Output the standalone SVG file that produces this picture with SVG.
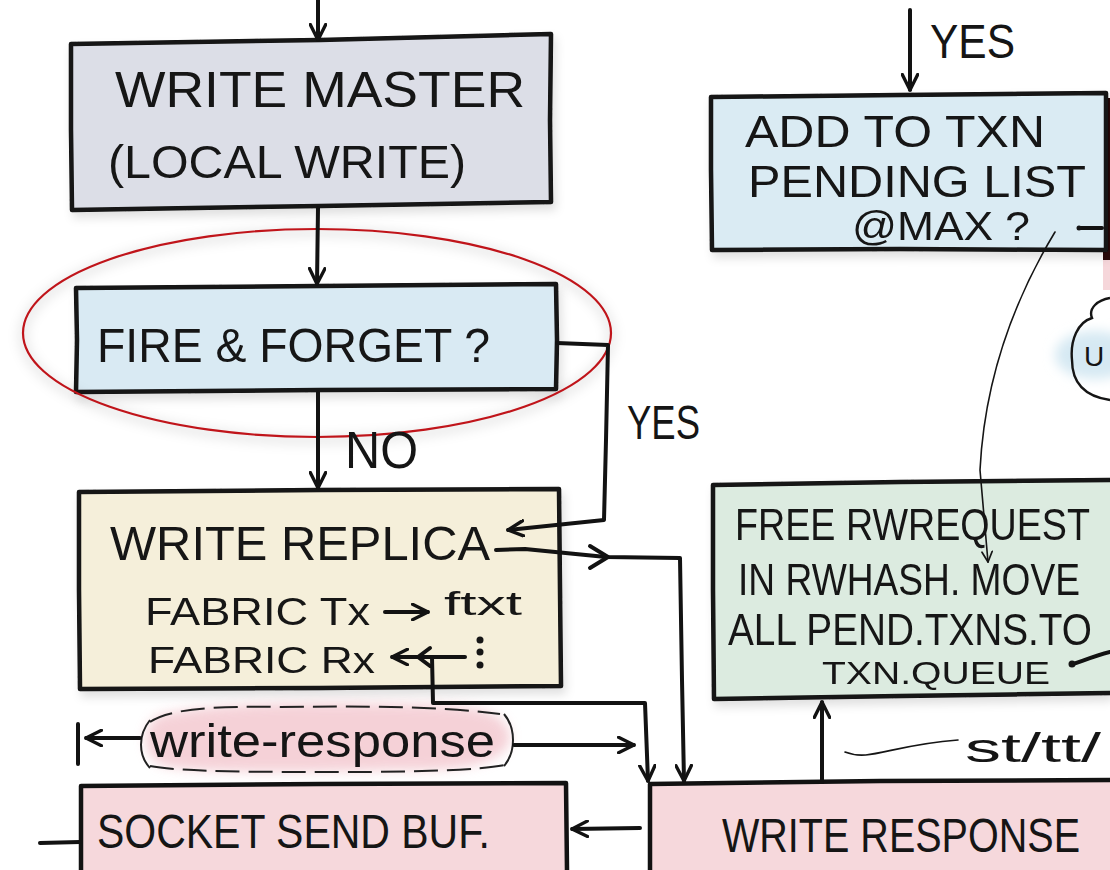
<svg xmlns="http://www.w3.org/2000/svg" width="1110" height="870" viewBox="0 0 1110 870">
  <defs>
    <style>
      .box { stroke: #121212; stroke-width: 4.5; stroke-linejoin: round; }
      .edge { fill: none; stroke: #121212; stroke-width: 4.5; stroke-linejoin: round; }
      .lbl { font-family: "Liberation Sans", "DejaVu Sans", sans-serif; fill: #151515; }
      .wire { fill: none; stroke: #121212; stroke-width: 4; stroke-linecap: round; stroke-linejoin: round; }
      .thin { fill: none; stroke: #151515; stroke-width: 1.6; stroke-linecap: round; }
      .head { fill: none; stroke: #121212; stroke-width: 4; stroke-linecap: round; stroke-linejoin: round; }
    </style>
    <marker id="arrow" viewBox="0 0 14 14" refX="13" refY="7" markerWidth="18" markerHeight="18" markerUnits="userSpaceOnUse" orient="auto">
      <path d="M1,1 L13,7 L1,13" fill="none" stroke="#121212" stroke-width="2.6" stroke-linecap="round" stroke-linejoin="round"/>
    </marker>
    <marker id="arrowSmall" viewBox="0 0 14 14" refX="13" refY="7" markerWidth="12" markerHeight="12" markerUnits="userSpaceOnUse" orient="auto">
      <path d="M1,1 L13,7 L1,13" fill="none" stroke="#151515" stroke-width="2" stroke-linecap="round"/>
    </marker>
    <filter id="shadow" x="-10%" y="-10%" width="125%" height="130%">
      <feDropShadow dx="3" dy="6" stdDeviation="5" flood-color="#000" flood-opacity="0.12"/>
    </filter>
    <filter id="haze" x="-20%" y="-40%" width="140%" height="180%">
      <feGaussianBlur stdDeviation="6"/>
    </filter>
  </defs>

  <rect width="1110" height="870" fill="#ffffff"/>

  <!-- edge of a neighbouring box on the right -->
  <rect x="1103" y="98" width="7" height="162" fill="#2a0808"/>
  <rect x="1103" y="260" width="7" height="30" fill="#f6d6da"/>

  <!-- partial cloud at the right edge -->
  <g id="cloud-right">
    <ellipse cx="1095" cy="355" rx="40" ry="24" fill="#d6e9f3" filter="url(#haze)"/>
    <path d="M1110,298 C1098,300 1088,308 1092,318 C1078,322 1070,340 1072,360 C1072,380 1082,396 1110,400" fill="none" stroke="#151515" stroke-width="2.4"/>
    <text class="lbl" x="1084" y="366" font-size="28">U</text>
  </g>

  <!-- WRITE MASTER -->
  <g id="write-master" filter="url(#shadow)">
    <path class="box" fill="#dcdee7" d="M71,44 L320,40 L551,34 L550,120 L551,202 L320,206 L72,210 L71,130 Z"/>
    <text class="lbl" x="115" y="107" font-size="50" textLength="410" lengthAdjust="spacingAndGlyphs">WRITE MASTER</text>
    <text class="lbl" x="108" y="178" font-size="46" textLength="358" lengthAdjust="spacingAndGlyphs">(LOCAL WRITE)</text>
  </g>

  <!-- FIRE & FORGET ? -->
  <g id="fire-and-forget" filter="url(#shadow)">
    <path class="box" fill="#d9eaf3" d="M76,288 L320,286 L556,284 L557,340 L556,389 L320,390 L76,392 L77,340 Z"/>
    <text class="lbl" x="97" y="362" font-size="48" textLength="393" lengthAdjust="spacingAndGlyphs">FIRE &amp; FORGET ?</text>
  </g>

  <!-- highlight ring -->
  <g id="highlight">
    <ellipse cx="317" cy="336" rx="294" ry="104" fill="none" stroke="#000" stroke-opacity="0.10" stroke-width="8" filter="url(#haze)"/>
    <ellipse cx="317" cy="333" rx="294" ry="104" fill="none" stroke="#c0141a" stroke-width="2.2"/>
  </g>

  <!-- WRITE REPLICA -->
  <g id="write-replica" filter="url(#shadow)">
    <path class="box" fill="#f5efda" d="M79,492 L320,490 L559,489 L560,590 L561,686 L320,688 L80,689 L79,590 Z"/>
    <text class="lbl" x="110" y="560" font-size="48" textLength="380" lengthAdjust="spacingAndGlyphs">WRITE REPLICA</text>
    <text class="lbl" x="145" y="625" font-size="38" textLength="225" lengthAdjust="spacingAndGlyphs">FABRIC Tx</text>
    <text class="lbl" x="444" y="615" font-size="34" textLength="78" lengthAdjust="spacingAndGlyphs">ftxt</text>
    <text class="lbl" x="148" y="673" font-size="37" textLength="227" lengthAdjust="spacingAndGlyphs">FABRIC Rx</text>
    <circle cx="480" cy="640" r="3.5" fill="#151515"/>
    <circle cx="480" cy="652" r="3.5" fill="#151515"/>
    <circle cx="480" cy="665" r="3.5" fill="#151515"/>
  </g>

  <!-- write-response message -->
  <g id="write-response-msg">
    <path d="M160,715 C230,700 330,702 420,704 C480,705 505,712 510,735 C512,760 470,772 400,770 C300,772 210,774 165,766 C140,758 140,725 160,715 Z" fill="#f3c6ce" opacity="0.8" filter="url(#haze)"/>
    <path d="M150,722 C170,708 220,706 280,707 C360,706 440,706 500,714 M150,766 C180,772 260,772 340,772 C420,772 480,770 505,765" fill="none" stroke="#222" stroke-width="2" stroke-dasharray="24 9"/>
    <path d="M150,720 C138,735 138,755 150,768 M504,714 C516,728 516,752 504,766" fill="none" stroke="#222" stroke-width="2"/>
    <text class="lbl" x="150" y="757" font-size="46" textLength="345" lengthAdjust="spacingAndGlyphs">write-response</text>
  </g>

  <!-- SOCKET SEND BUF. -->
  <g id="socket-send-buf">
    <path fill="#f6d8dc" d="M81,870 L81,786 L320,784 L566,783 L567,870 Z"/>
    <path class="edge" stroke="#2a0808" d="M81,870 L81,786 L320,784 L566,783 L567,870"/>
    <text class="lbl" x="97" y="848" font-size="48" fill="#2a0a0a" textLength="393" lengthAdjust="spacingAndGlyphs">SOCKET SEND BUF.</text>
  </g>

  <!-- WRITE RESPONSE -->
  <g id="write-response">
    <path fill="#f6d8dc" d="M650,870 L650,784 L880,781 L1110,780 L1110,870 Z"/>
    <path class="edge" stroke="#2a0808" d="M650,870 L650,784 L880,781 L1110,780"/>
    <text class="lbl" transform="translate(722,852) scale(1,1.18)" font-size="41" fill="#2a0a0a" textLength="358" lengthAdjust="spacingAndGlyphs">WRITE RESPONSE</text>
  </g>

  <!-- ADD TO TXN PENDING LIST @MAX ? -->
  <g id="add-to-txn" filter="url(#shadow)">
    <path class="box" fill="#daebf3" d="M711,97 L900,95 L1106,93 L1106,250 L900,249 L712,250 L711,170 Z"/>
    <text class="lbl" x="745" y="147" font-size="44" textLength="300" lengthAdjust="spacingAndGlyphs">ADD TO TXN</text>
    <text class="lbl" x="748" y="197" font-size="44" textLength="338" lengthAdjust="spacingAndGlyphs">PENDING LIST</text>
    <text class="lbl" x="852" y="240" font-size="40" textLength="178" lengthAdjust="spacingAndGlyphs">@MAX ?</text>
  </g>

  <!-- FREE RWREQUEST ... -->
  <g id="free-rwrequest" filter="url(#shadow)">
    <path fill="#dcebe0" d="M713,485 L900,482 L1110,480 L1110,693 L900,696 L714,699 L713,590 Z"/>
    <path class="edge" d="M1110,480 L900,482 L713,485 L713,590 L714,699 L900,696 L1110,693"/>
    <text class="lbl" transform="translate(735,540) scale(1,1.15)" font-size="39" textLength="355" lengthAdjust="spacingAndGlyphs">FREE RWREQUEST</text>
    <text class="lbl" transform="translate(738,595) scale(1,1.15)" font-size="38" textLength="342" lengthAdjust="spacingAndGlyphs">IN RWHASH. MOVE</text>
    <text class="lbl" transform="translate(728,645) scale(1,1.15)" font-size="39" textLength="364" lengthAdjust="spacingAndGlyphs">ALL PEND.TXNS.TO</text>
    <text class="lbl" x="822" y="684" font-size="32" textLength="228" lengthAdjust="spacingAndGlyphs">TXN.QUEUE</text>
  </g>

  <!-- labels on connectors -->
  <g id="connector-labels">
    <text class="lbl" x="345" y="468" font-size="52" textLength="73" lengthAdjust="spacingAndGlyphs">NO</text>
    <text class="lbl" x="627" y="439" font-size="48" textLength="73" lengthAdjust="spacingAndGlyphs">YES</text>
    <text class="lbl" x="930" y="58" font-size="48" textLength="85" lengthAdjust="spacingAndGlyphs">YES</text>
    <text class="lbl" x="965" y="762" font-size="40" textLength="136" lengthAdjust="spacingAndGlyphs">st/tt/</text>
  </g>

  <g id="connectors">
    <!-- into WRITE MASTER -->
    <path class="wire" d="M318,0 L318,40" marker-end="url(#arrow)"/>
    <!-- WRITE MASTER to FIRE & FORGET -->
    <path class="wire" d="M318,208 L317,284" marker-end="url(#arrow)"/>
    <!-- NO branch -->
    <path class="wire" d="M318,392 L318,488" marker-end="url(#arrow)"/>
    <!-- YES branch back into WRITE REPLICA -->
    <path class="wire" d="M557,343 L608,345 L606,440 L604,520 L508,530" marker-end="url(#arrow)"/>
    <!-- WRITE REPLICA out to WRITE RESPONSE -->
    <path class="wire" d="M496,550 L525,549 L606,557 L680,558 L682,680 L684,781" marker-end="url(#arrow)"/>
    <path class="head" d="M590,546 L608,557 L590,568"/>
    <!-- fabric Tx arrow -->
    <path class="wire" stroke-width="3" d="M385,612 L428,612" marker-end="url(#arrow)"/>
    <!-- fabric Rx arrow and return path -->
    <path class="wire" stroke-width="3" d="M465,657 L392,657" marker-end="url(#arrow)"/>
    <path class="head" stroke-width="3" d="M430,648 L418,657 L430,666"/>
    <path class="wire" stroke-width="3.5" d="M432,657 L433,703 L645,703 L648,781" marker-end="url(#arrow)"/>
    <!-- write-response message arrows -->
    <path class="wire" stroke-width="2.4" d="M140,738 L86,738" marker-end="url(#arrow)"/>
    <path class="wire" stroke-width="2.4" d="M78,724 L78,764"/>
    <path class="wire" stroke-width="3.5" d="M514,745 L634,745" marker-end="url(#arrow)"/>
    <!-- WRITE RESPONSE to SOCKET SEND BUF. -->
    <path class="wire" stroke-width="3.5" d="M640,828 L572,829" marker-end="url(#arrow)"/>
    <!-- out of SOCKET SEND BUF. -->
    <path class="wire" d="M40,843 L80,842"/>
    <!-- WRITE RESPONSE up to FREE RWREQUEST -->
    <path class="wire" d="M822,781 L822,702" marker-end="url(#arrow)"/>
    <!-- st/tt leader -->
    <path class="thin" stroke-width="2" d="M845,752 C870,762 890,745 958,740"/>
    <!-- YES into ADD TO TXN -->
    <path class="wire" d="M910,10 L910,90" marker-end="url(#arrow)"/>
    <!-- @MAX? to MOVE -->
    <path class="thin" d="M1055,232 C1020,290 985,370 980,470 L988,562" marker-end="url(#arrowSmall)"/>
    <path class="wire" stroke-width="2.6" d="M1080,228 L1102,228"/>
    <circle cx="1079" cy="228" r="2.5" fill="#151515"/>
    <!-- into TXN.QUEUE -->
    <path class="wire" stroke-width="2.6" d="M1110,652 C1095,656 1085,660 1073,664"/>
    <circle cx="1072" cy="664" r="3.5" fill="#151515"/>
  </g>
</svg>
